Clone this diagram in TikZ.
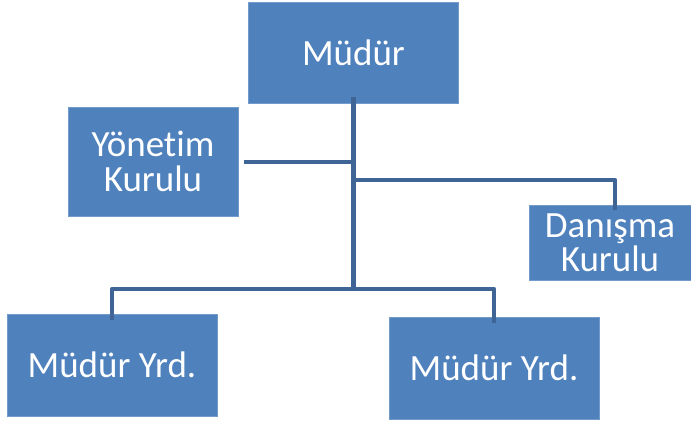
\documentclass[tikz,border=0pt]{standalone}
\usepackage{fontspec}
\setmainfont{Carlito}[Ligatures=NoCommon]
\definecolor{boxblue}{HTML}{4F81BD}
\definecolor{linkblue}{HTML}{3E6595}
\begin{document}
\begin{tikzpicture}[x=1pt,y=-1pt,
  orgbox/.style={fill=boxblue,draw=boxblue!80!white,line width=0.6pt,inner sep=0pt,
    text=white,align=center,font=\fontsize{37}{34.5}\selectfont},
  link/.style={draw=linkblue,line width=4.8pt,line join=round}]
\useasboundingbox (0,0) rectangle (691,421);
\node[orgbox,minimum width=210,minimum height=101] (mudur) at (353.5,52.5) {Müdür};
\node[orgbox,minimum width=170,minimum height=109] (yon) at (153,161.5) {Yönetim\\Kurulu};
\node[orgbox,minimum width=162,minimum height=75] (dan) at (610,243) {Danışma\\Kurulu};
\node[orgbox,minimum width=210,minimum height=102] (yrd1) at (112,365) {Müdür Yrd.};
\node[orgbox,minimum width=210,minimum height=102] (yrd2) at (494,368) {Müdür Yrd.};
\coordinate (j1) at (353.5,162);
\coordinate (j2) at (353.5,180);
\coordinate (j3) at (353.5,289);
\draw[link] ([yshift=6]mudur.south) -- (j3);
\draw[link,shorten >=6pt] (j1) -- (yon.east |- j1);
\draw[link] (j2) -| ([xshift=5,yshift=-5]dan.north);
\draw[link] ([yshift=-6]yrd1.north) |- (j3) -| ([yshift=-6]yrd2.north);
\end{tikzpicture}
\end{document}
